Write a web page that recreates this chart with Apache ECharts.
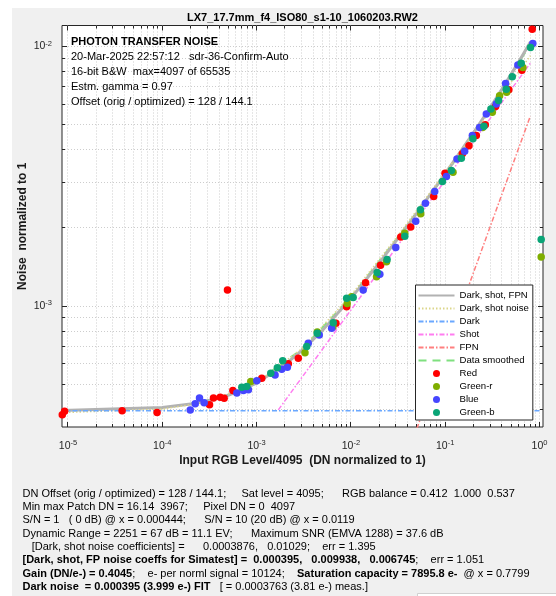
<!DOCTYPE html>
<html>
<head>
<meta charset="utf-8">
<title>Photon transfer noise</title>
<style>
  html, body { margin: 0; padding: 0; background: #ffffff; }
  #chart { width: 556px; height: 596px; }
</style>
<script src="https://cdn.jsdelivr.net/npm/echarts@6/dist/echarts.min.js"></script>
</head>
<body>
<div id="chart"></div>
<script>
const FONT = '"Liberation Sans", Arial, Helvetica, sans-serif';
const AXIS_COLOR = '#262626';
const GRID_COLOR = '#cdcdcd';

// Axis ranges (log10 scales) and decade ticks
const xRange = [8.64e-6, 1.089];
const yRange = [3.42e-4, 0.01205];
const xDecades = [-5, -4, -3, -2, -1, 0];
const yDecades = [-4, -3, -2];
const minorSteps = [2, 3, 4, 5, 6, 7, 8, 9];

// Measured noise per channel: [normalized input level, normalized noise]
const redPts = [
  [8.7e-6, 3.81e-4], [9.2e-6, 3.93e-4], [3.75e-5, 3.95e-4], [8.8e-5, 3.89e-4],
  [3.17e-4, 4.17e-4], [3.49e-4, 4.42e-4], [4.11e-4, 4.45e-4], [4.53e-4, 4.41e-4],
  [4.91e-4, 1.152e-3], [5.60e-4, 4.73e-4], [1.135e-3, 5.27e-4], [2.17e-3, 5.99e-4],
  [2.77e-3, 6.30e-4], [6.94e-3, 8.58e-4], [9.01e-3, 9.94e-4], [1.431e-2, 1.229e-3],
  [2.062e-2, 1.437e-3], [3.38e-2, 1.846e-3], [4.31e-2, 2.016e-3], [7.55e-2, 2.646e-3],
  [9.95e-2, 3.25e-3], [0.152, 3.86e-3], [0.1786, 4.144e-3], [0.2138, 4.54e-3],
  [0.2663, 5.00e-3], [0.3423, 5.87e-3], [0.4733, 6.82e-3], [0.6497, 8.11e-3],
  [0.8372, 1.166e-2]
];
const greenRPts = [
  [8.68e-4, 5.12e-4], [3.26e-3, 6.61e-4], [4.40e-3, 7.95e-4], [6.45e-3, 8.33e-4],
  [9.14e-3, 1.024e-3], [1.017e-2, 1.086e-3], [1.871e-2, 1.296e-3], [2.386e-2, 1.48e-3],
  [3.73e-2, 1.908e-3], [5.50e-2, 2.27e-3], [0.121, 3.28e-3], [0.249, 4.87e-3],
  [0.3159, 5.58e-3], [0.3774, 6.46e-3], [0.4477, 6.66e-3], [0.666, 8.30e-3],
  [1.042, 1.547e-3]
];
const bluePts = [
  [1.978e-4, 3.98e-4], [2.234e-4, 4.20e-4], [2.48e-4, 4.42e-4], [2.78e-4, 4.24e-4],
  [6.17e-4, 4.62e-4], [7.25e-4, 4.73e-4], [8.19e-4, 4.76e-4], [1.005e-3, 5.16e-4],
  [1.57e-3, 5.43e-4], [1.848e-3, 5.71e-4], [2.12e-3, 5.81e-4], [3.53e-3, 7.19e-4],
  [4.62e-3, 7.74e-4], [6.25e-3, 8.21e-4], [1.35e-2, 1.152e-3], [2.027e-2, 1.327e-3],
  [2.99e-2, 1.68e-3], [4.87e-2, 2.12e-3], [6.17e-2, 2.487e-3], [7.74e-2, 2.766e-3],
  [0.103, 3.157e-3], [0.1333, 3.69e-3], [0.1608, 3.95e-3], [0.194, 4.54e-3],
  [0.2318, 4.88e-3], [0.2729, 5.50e-3], [0.348, 6.01e-3], [0.4367, 7.21e-3],
  [0.5894, 8.48e-3], [0.849, 1.027e-2]
];
const greenBPts = [
  [6.97e-4, 4.87e-4], [7.87e-4, 4.90e-4], [1.414e-3, 5.51e-4], [1.66e-3, 5.78e-4],
  [1.893e-3, 6.16e-4], [3.40e-3, 6.98e-4], [4.40e-3, 7.86e-4], [6.50e-3, 8.63e-4],
  [9.01e-3, 1.071e-3], [1.057e-2, 1.080e-3], [1.898e-2, 1.348e-3], [2.42e-2, 1.511e-3],
  [3.73e-2, 1.857e-3], [5.46e-2, 2.352e-3], [9.34e-2, 3.02e-3], [0.1163, 3.33e-3],
  [0.1484, 3.71e-3], [0.1968, 4.41e-3], [0.2574, 4.93e-3], [0.3053, 5.75e-3],
  [0.3683, 6.19e-3], [0.4442, 6.84e-3], [0.5141, 7.65e-3], [0.6403, 8.63e-3],
  [0.8031, 9.91e-3], [1.042, 1.804e-3]
];

// Model curves: [normalized input level, normalized noise]
const darkShotFpnCurve = [
  [8.64e-6, 3.96e-4], [1e-4, 4.07e-4], [2e-4, 4.19e-4], [3e-4, 4.31e-4], [5e-4, 4.53e-4],
  [1e-3, 5.05e-4], [2e-3, 5.95e-4], [3e-3, 6.73e-4], [5e-3, 8.06e-4], [1e-2, 1.071e-3],
  [2e-2, 1.466e-3], [3e-2, 1.778e-3], [5e-2, 2.282e-3], [0.1, 3.238e-3], [0.2, 4.661e-3],
  [0.3, 5.821e-3], [0.4, 6.851e-3], [0.6, 8.71e-3], [0.8, 1.04e-2]
];
const darkShotCurve = [
  [8.64e-6, 3.888e-4], [1e-4, 4.01e-4], [3e-4, 4.266e-4], [1e-3, 5.06e-4], [3e-3, 6.84e-4],
  [1e-2, 1.0996e-3], [3e-2, 1.824e-3], [0.1, 3.277e-3], [0.3, 5.649e-3], [0.8, 9.21e-3]
];
const darkLine = [[8.64e-6, 3.95e-4], [1.0, 3.95e-4]];
const shotLine = [[1.7e-3, 3.98e-4], [0.8, 8.63e-3]];
const fpnLine = [[0.05, 3.37e-4], [0.8, 5.4e-3]];
const smoothedCurve = [
  [2e-4, 4.2e-4], [5e-4, 4.5e-4], [1e-3, 5.1e-4], [3e-3, 6.8e-4], [1e-2, 1.08e-3],
  [3e-2, 1.8e-3], [0.1, 3.2e-3], [0.3, 5.8e-3], [0.8, 1.02e-2]
];

// Text blocks
const titleText = 'LX7_17.7mm_f4_ISO80_s1-10_1060203.RW2';
const infoLines = [
  'PHOTON TRANSFER NOISE',
  '20-Mar-2025 22:57:12   sdr-36-Confirm-Auto',
  '16-bit B&W  max=4097 of 65535',
  'Estm. gamma = 0.97',
  'Offset (orig / optimized) = 128 / 144.1'
];
const xAxisTitle = 'Input RGB Level/4095  (DN normalized to 1)';
const yAxisTitle = 'Noise  normalized to 1';
const lineLegendNames = ['Dark, shot, FPN', 'Dark, shot noise', 'Dark', 'Shot', 'FPN', 'Data smoothed'];
const dotLegendNames = ['Red', 'Green-r', 'Blue', 'Green-b'];
// Each line: list of [bold?, text]
const summaryLines = [
  [[0, 'DN Offset (orig / optimized) = 128 / 144.1;     Sat level = 4095;      RGB balance = 0.412  1.000  0.537']],
  [[0, 'Min max Patch DN = 16.14  3967;     Pixel DN = 0  4097']],
  [[0, 'S/N = 1   ( 0 dB) @ x = 0.000444;      S/N = 10 (20 dB) @ x = 0.0119']],
  [[0, 'Dynamic Range = 2251 = 67 dB = 11.1 EV;      Maximum SNR (EMVA 1288) = 37.6 dB']],
  [[0, '   [Dark, shot noise coefficients] =      0.0003876,   0.01029;    err = 1.395']],
  [[1, '[Dark, shot, FP noise coeffs for Simatest] =  0.000395,   0.009938,   0.006745'], [0, ';    err = 1.051']],
  [[1, 'Gain (DN/e-) = 0.4045'], [0, ';    e- per norml signal = 10124;    '], [1, 'Saturation capacity = 7895.8 e-'], [0, '  @ x = 0.7799']],
  [[1, 'Dark noise  = 0.000395 (3.999 e-) FIT'], [0, '   [ = 0.0003763 (3.81 e-) meas.]']]
];

// Tick lists for gridlines (major = decade, minor = 2..9 per decade)
function tickList(decades, range) {
  const out = [];
  decades.forEach(function (d) {
    const base = Math.pow(10, d);
    if (base >= range[0] && base <= range[1]) out.push([base, 1]);
    minorSteps.forEach(function (m) {
      const v = m * base;
      if (v >= range[0] && v <= range[1]) out.push([v, 0]);
    });
  });
  return out;
}
const xTicks = tickList(xDecades, xRange);
const yTicks = tickList(yDecades, yRange);

function crisp(v) { return Math.round(v - 0.5) + 0.5; }

function renderXTick(params, api) {
  const cs = params.coordSys;
  const p = api.coord([api.value(0), api.value(1)]);
  const x = crisp(p[0]);
  const len = api.value(2) === 1 ? 5 : 3;
  const top = cs.y, bottom = cs.y + cs.height;
  return {
    type: 'group',
    children: [
      { type: 'line', shape: { x1: x, y1: top, x2: x, y2: bottom }, style: { stroke: GRID_COLOR, lineWidth: 1, lineDash: [1, 2] } },
      { type: 'line', shape: { x1: x, y1: bottom, x2: x, y2: bottom - len }, style: { stroke: AXIS_COLOR, lineWidth: 1 } },
      { type: 'line', shape: { x1: x, y1: top, x2: x, y2: top + len }, style: { stroke: AXIS_COLOR, lineWidth: 1 } }
    ]
  };
}
function renderYTick(params, api) {
  const cs = params.coordSys;
  const p = api.coord([api.value(0), api.value(1)]);
  const y = crisp(p[1]);
  const len = api.value(2) === 1 ? 5 : 3;
  const left = cs.x, right = cs.x + cs.width;
  return {
    type: 'group',
    children: [
      { type: 'line', shape: { x1: left, y1: y, x2: right, y2: y }, style: { stroke: GRID_COLOR, lineWidth: 1, lineDash: [1, 2] } },
      { type: 'line', shape: { x1: left, y1: y, x2: left + len, y2: y }, style: { stroke: AXIS_COLOR, lineWidth: 1 } },
      { type: 'line', shape: { x1: right, y1: y, x2: right - len, y2: y }, style: { stroke: AXIS_COLOR, lineWidth: 1 } }
    ]
  };
}

function powerLabel(v) {
  const e = Math.round(Math.log10(v));
  if (Math.abs(Math.log10(v) - e) > 1e-6) return '';
  return '{b|10}{s|' + e + '}';
}
const labelRich = {
  b: { fontSize: 10.5, fontFamily: FONT, color: AXIS_COLOR, lineHeight: 14, verticalAlign: 'middle' },
  s: { fontSize: 7.5, fontFamily: FONT, color: AXIS_COLOR, lineHeight: 6, verticalAlign: 'top' }
};

function lineSeries(name, data, color, width, dash, z) {
  return {
    name: name, type: 'line', data: data, showSymbol: false, symbol: 'none',
    lineStyle: { color: color, width: width, type: dash },
    itemStyle: { color: color, opacity: 0 },
    silent: true, z: z, animation: false
  };
}
function dotSeries(name, data, color) {
  return {
    name: name, type: 'scatter', data: data, symbol: 'circle', symbolSize: 7.5,
    itemStyle: { color: color, opacity: 1 }, z: 5, animation: false
  };
}

const graphics = [
  { type: 'rect', z: -10, shape: { x: 12, y: 8, width: 544, height: 588 }, style: { fill: '#f0f0f0' }, silent: true },
  { type: 'rect', z: -9, shape: { x: 417.5, y: 593.5, width: 140, height: 4 }, style: { fill: '#ffffff', stroke: '#d0d0d0', lineWidth: 1 }, silent: true },
  { type: 'text', z: 10, style: { text: titleText, x: 302.5, y: 17.5, align: 'center', verticalAlign: 'middle', fontSize: 11, fontWeight: 'bold', fontFamily: FONT, fill: '#000' } }
];
infoLines.forEach(function (t, i) {
  graphics.push({
    type: 'text', z: 10,
    style: { text: t, x: 71, y: 41.5 + i * 15, verticalAlign: 'middle', fontSize: 11, fontWeight: i === 0 ? 'bold' : 'normal', fontFamily: FONT, fill: '#000' }
  });
});
summaryLines.forEach(function (parts, i) {
  const text = parts.map(function (p) {
    return '{' + (p[0] ? 'b' : 'n') + '|' + p[1] + '}';
  }).join('');
  graphics.push({
    type: 'text', z: 10,
    style: {
      text: text, x: 22.5, y: 493.5 + i * 13.35, verticalAlign: 'middle', fontSize: 11, fontFamily: FONT, fill: '#000',
      rich: {
        b: { fontSize: 11, fontFamily: FONT, fontWeight: 'bold', fill: '#000', color: '#000' },
        n: { fontSize: 11, fontFamily: FONT, fontWeight: 'normal', fill: '#000', color: '#000' }
      }
    }
  });
});

const legendData = lineLegendNames.map(function (n) {
  return { name: n, itemStyle: { opacity: 0 } };
}).concat(dotLegendNames.map(function (n) { return { name: n }; }));

const chart = echarts.init(document.getElementById('chart'), null, { renderer: 'canvas' });
chart.setOption({
  animation: false,
  backgroundColor: 'transparent',
  textStyle: { fontFamily: FONT },
  grid: {
    left: 62, top: 25.5, right: 13, bottom: 169,
    show: true, backgroundColor: '#ffffff', borderColor: AXIS_COLOR, borderWidth: 1,
    containLabel: false
  },
  xAxis: {
    type: 'log', logBase: 10, min: xRange[0], max: xRange[1],
    name: xAxisTitle, nameLocation: 'middle', nameGap: 28, nameMoveOverlap: false,
    nameTextStyle: { fontSize: 12, fontWeight: 'bold', fontFamily: FONT, color: '#1a1a1a' },
    axisLine: { show: false }, axisTick: { show: false }, splitLine: { show: false },
    axisLabel: { margin: 12, formatter: powerLabel, rich: labelRich, showMinLabel: true, showMaxLabel: true, hideOverlap: false }
  },
  yAxis: {
    type: 'log', logBase: 10, min: yRange[0], max: yRange[1],
    name: yAxisTitle, nameLocation: 'middle', nameGap: 33, nameRotate: 90, nameMoveOverlap: false,
    nameTextStyle: { fontSize: 12, fontWeight: 'bold', fontFamily: FONT, color: '#1a1a1a' },
    axisLine: { show: false }, axisTick: { show: false }, splitLine: { show: false },
    axisLabel: { margin: 10, formatter: powerLabel, rich: labelRich, showMinLabel: true, showMaxLabel: true, hideOverlap: false }
  },
  legend: {
    orient: 'vertical', left: 415.5, top: 285,
    padding: [4, 4, 1, 2], itemGap: 0, itemWidth: 36, itemHeight: 7,
    backgroundColor: '#ffffff', borderColor: AXIS_COLOR, borderWidth: 1, borderRadius: 0,
    textStyle: { fontSize: 9.6, fontFamily: FONT, color: '#000', lineHeight: 13 },
    selectedMode: false,
    data: legendData
  },
  graphic: graphics,
  series: [
    { name: 'gridX', type: 'custom', renderItem: renderXTick, data: xTicks.map(function (t) { return [t[0], yRange[0], t[1]]; }), silent: true, z: 1, clip: false, animation: false },
    { name: 'gridY', type: 'custom', renderItem: renderYTick, data: yTicks.map(function (t) { return [xRange[0], t[0], t[1]]; }), silent: true, z: 1, clip: false, animation: false },
    lineSeries('Data smoothed', smoothedCurve, '#7fe07f', 2, [8, 6], 2),
    lineSeries('Dark, shot, FPN', darkShotFpnCurve, '#b2b2b2', 3, 'solid', 3),
    lineSeries('Dark, shot noise', darkShotCurve, '#dcd68a', 1.5, [1.5, 2], 3),
    lineSeries('Dark', darkLine, '#6aa8ff', 1.5, [5, 2, 1.5, 2], 3),
    lineSeries('Shot', shotLine, '#ff7cf0', 1.5, [5, 2, 1.5, 2], 3),
    lineSeries('FPN', fpnLine, '#ff7f7f', 1.5, [5, 2, 1.5, 2], 3),
    dotSeries('Red', redPts, '#ff0000'),
    dotSeries('Green-r', greenRPts, '#7fae00'),
    dotSeries('Blue', bluePts, '#4646ff'),
    dotSeries('Green-b', greenBPts, '#0aa577')
  ]
});
</script>
</body>
</html>
